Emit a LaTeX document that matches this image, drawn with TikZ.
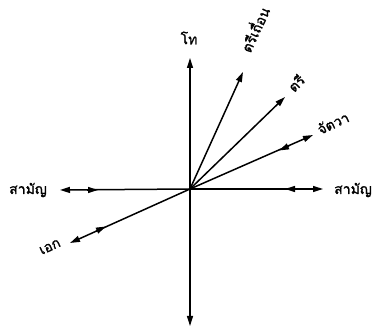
\documentclass[tikz,border=0pt]{standalone}
\usepackage{fontspec}
\newfontfamily\thaifont[Script=Thai, FakeBold=1.2]{Loma}
\usetikzlibrary{arrows.meta}
\begin{document}
\begin{tikzpicture}[x=1pt,y=-1pt,
  ax/.style={line width=1.5pt, -{Triangle[length=10pt,width=6pt]}},
  hd/.style={line width=1.5pt, -{Triangle[length=10pt,width=6pt]}},
  lbl/.style={font=\thaifont\fontsize{14}{16}\selectfont, inner sep=0pt}]
\useasboundingbox[fill=white] (0,0) rectangle (376,331);
\coordinate (O) at (190,189);
\coordinate (T) at (190,58);
\coordinate (B) at (190,326);
\coordinate (L) at (60,190);
\coordinate (R) at (323,189);
\coordinate (TT) at (243,72);
\coordinate (TR) at (285,97);
\coordinate (J) at (313,135);
\coordinate (E) at (70,243);
% inner heads
\coordinate (L1) at (87,190);
\coordinate (L2) at (98,190);
\coordinate (R1) at (296,189);
\coordinate (R2) at (285,189);
\coordinate (J1) at (289,146);
\coordinate (J2) at (279,150.5);
\coordinate (E1) at (96,231);
\coordinate (E2) at (106,226.5);
\draw[ax] (O) -- (T);
\draw[ax] (O) -- (B);
\draw[ax] (O) -- (L);
\draw[ax] (O) -- (R);
\draw[ax] (O) -- (TT);
\draw[ax] (O) -- (TR);
\draw[ax] (O) -- (J);
\draw[ax] (O) -- (E);
\draw[hd] (L1) -- (L2);
\draw[hd] (R1) -- (R2);
\draw[hd] (J1) -- (J2);
\draw[hd] (E1) -- (E2);
\node[lbl] (lt) at (189,38) {โท};
\node[lbl, rotate=65] (ltt) at (254,29) {ตรีเถื่อน};
\node[lbl, rotate=45] (ltr) at (296,83) {ตรี};
\node[lbl, rotate=25] (lj) at (333,123) {จัตวา};
\node[lbl] (ls1) at (28,190) {สามัญ};
\node[lbl] (ls2) at (353,190) {สามัญ};
\node[lbl, rotate=25] (le) at (50,247) {เอก};
\end{tikzpicture}
\end{document}
